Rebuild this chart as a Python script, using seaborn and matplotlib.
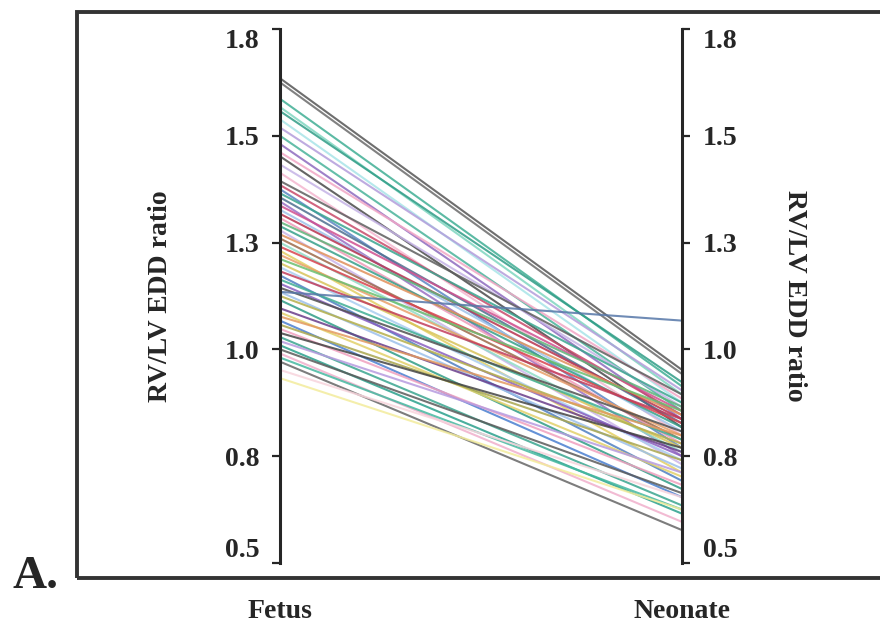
import matplotlib
matplotlib.use("Agg")
import matplotlib.pyplot as plt
import pandas as pd
import seaborn as sns
from matplotlib.patches import Rectangle

# ---------------- data ----------------
stages = ["Fetus", "Neonate"]
fetus = [1.68, 1.67, 1.63, 1.61, 1.60, 1.58, 1.56, 1.54, 1.52, 1.50,
         1.49, 1.47, 1.45, 1.43, 1.42, 1.41, 1.40, 1.39, 1.38, 1.37,
         1.36, 1.35, 1.34, 1.33, 1.32, 1.31, 1.30, 1.29, 1.28, 1.27,
         1.26, 1.25, 1.24, 1.23, 1.22, 1.21, 1.20, 1.19, 1.18, 1.17,
         1.16, 1.15, 1.14, 1.16, 1.12, 1.11, 1.10, 1.09, 1.08, 1.07,
         1.06, 1.05, 1.04, 1.03, 1.02, 1.01, 1.00, 0.99, 0.97, 0.95]
neonate = [0.97, 0.96, 0.93, 0.91, 0.94, 0.89, 0.92, 0.87, 0.85, 0.90,
           0.83, 0.88, 0.81, 0.91, 0.86, 0.78, 0.89, 0.84, 0.76, 0.87,
           0.82, 0.85, 0.79, 0.88, 0.83, 0.74, 0.86, 0.80, 0.77, 0.84,
           0.72, 0.81, 0.87, 0.78, 0.75, 0.85, 0.70, 0.80, 0.76, 0.82,
           0.73, 0.79, 0.68, 1.09, 0.77, 0.71, 0.81, 0.66, 0.75, 0.69,
           0.78, 0.64, 0.72, 0.62, 0.67, 0.60, 0.63, 0.58, 0.66, 0.63]
ytick_values = [0.5, 0.76, 1.02, 1.28, 1.54, 1.8]
ytick_labels = ["0.5", "0.8", "1.0", "1.3", "1.5", "1.8"]
y_label = "RV/LV EDD ratio"
panel_label = "A."

# ---------------- style ----------------
line_colors = [
    "#555555", "#6b6b6b", "#3fae94", "#7fd6c0", "#2f9c86", "#a8e4e8", "#b39ddb", "#49b39a", "#8e6bbf", "#f2a7c6",
    "#4a4a4a", "#c5b3e6", "#f4b6cf", "#5e5e5e", "#c94a6a", "#5b86c4", "#3aa58f", "#4f6f8f", "#9a6fc4", "#d0508f",
    "#9ec3ea", "#b8324f", "#ef9ab8", "#5fb37a", "#36a08a", "#cbb5ea", "#e0905a", "#9c6a4a", "#8fdcc6", "#d9434f",
    "#e3cf63", "#e8a06a", "#6bbf6f", "#d8c45a", "#a9cdf0", "#c23d5c", "#4f7fc2", "#3fae94", "#8a5fc0", "#505050",
    "#9cc0ea", "#b5b04a", "#2f9c86", "#5677a8", "#6a3d8a", "#e2d16a", "#e39a5f", "#4a7fd0", "#a9a64e", "#f0a0bf",
    "#444444", "#3aa58f", "#b79be0", "#2aa08c", "#5a5a5a", "#f0b0cc", "#45b8a0", "#666666", "#f7d4dc", "#f3ec9c",
]

sns.set_style("white")
plt.rcParams["font.family"] = ["Liberation Serif", "DejaVu Serif"]
plt.rcParams["font.weight"] = "bold"

n = len(fetus)
ids = [f"s{i:02d}" for i in range(n)]
df = pd.DataFrame({
    "subject": ids + ids,
    "stage": [stages[0]] * n + [stages[1]] * n,
    "ratio": fetus + neonate,
})
palette = {sid: line_colors[i % len(line_colors)] for i, sid in enumerate(ids)}

fig = plt.figure(figsize=(8.8, 6.31), dpi=100)
ax = fig.add_axes([0.3182, 0.1078, 0.4568, 0.8463])

sns.lineplot(data=df, x="stage", y="ratio", hue="subject", palette=palette,
             estimator=None, legend=False, linewidth=1.5, alpha=0.85, ax=ax)

ax.set_xlim(0, 1)
ax.set_ylim(0.5, 1.8)
ax.set_xticks([0, 1])
ax.set_xticklabels(stages, fontsize=20, fontweight="bold")
ax.tick_params(axis="x", length=0, pad=26)
ax.set_xlabel("")

spine_col = "#262626"
for s in ["top", "bottom", "right"]:
    ax.spines[s].set_visible(False)
ax.spines["left"].set_linewidth(2.2)
ax.spines["left"].set_color(spine_col)

ax.set_yticks(ytick_values)
ax.set_yticklabels(ytick_labels, fontsize=20, fontweight="bold")
ax.tick_params(axis="y", length=6, width=1.6, color=spine_col, pad=9, direction="out")
labs = ax.get_yticklabels()
labs[0].set_va("bottom")
labs[-1].set_va("top")
ax.set_ylabel(y_label, fontsize=20, fontweight="bold")
ax.yaxis.label.set_va("center")
ax.yaxis.set_label_coords(-0.2985, 0.5)

ax2 = ax.twinx()
ax2.set_ylim(0.5, 1.8)
for s in ["top", "bottom", "left"]:
    ax2.spines[s].set_visible(False)
ax2.spines["right"].set_linewidth(2.2)
ax2.spines["right"].set_color(spine_col)
ax2.set_yticks(ytick_values)
ax2.set_yticklabels(ytick_labels, fontsize=20, fontweight="bold")
ax2.tick_params(axis="y", length=6, width=1.6, color=spine_col, pad=9, direction="out")
labs2 = ax2.get_yticklabels()
labs2[0].set_va("bottom")
labs2[-1].set_va("top")
ax2.set_ylabel(y_label, fontsize=20, fontweight="bold", rotation=270)
ax2.yaxis.label.set_va("center")
ax2.yaxis.label.set_ha("center")
ax2.yaxis.set_label_coords(1.281, 0.5)

fig.patches.append(Rectangle((0.0875, 0.084), 1.0, 0.897, transform=fig.transFigure,
                             fill=False, lw=2.8, ec="#333333", zorder=0))
fig.text(12 / 880, 1 - 588 / 631, panel_label, fontsize=34, fontweight="bold",
         ha="left", va="baseline")

fig.savefig("out.png", dpi=100)
